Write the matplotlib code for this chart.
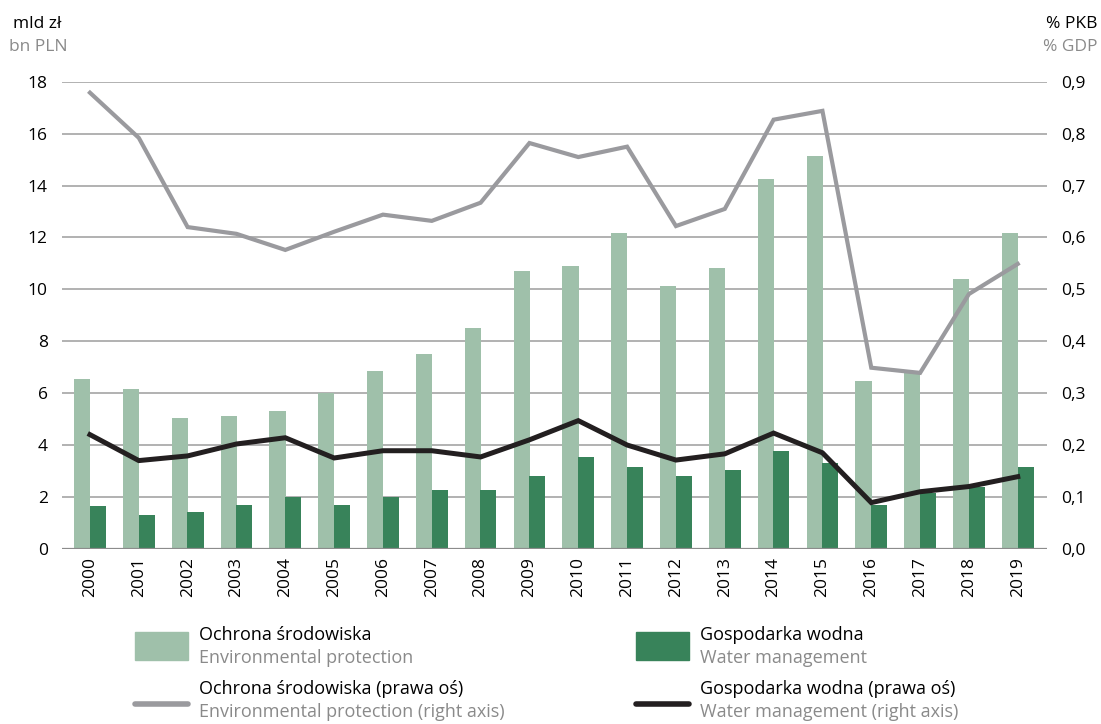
import matplotlib.pyplot as plt
import numpy as np
from matplotlib.patches import Rectangle
from matplotlib.lines import Line2D

plt.rcParams['font.family'] = ['Open Sans', 'DejaVu Sans']

years = [str(y) for y in range(2000, 2020)]
env_bn = [6.55, 6.17, 5.05, 5.13, 5.32, 6.0, 6.86, 7.52, 8.52, 10.7,
          10.9, 12.18, 10.14, 10.83, 14.26, 15.15, 6.48, 6.8, 10.4, 12.18]
water_bn = [1.66, 1.31, 1.43, 1.70, 1.98, 1.70, 2.0, 2.27, 2.27, 2.81,
            3.55, 3.16, 2.81, 3.04, 3.78, 3.32, 1.70, 2.15, 2.4, 3.16]
env_gdp = [0.879, 0.792, 0.620, 0.607, 0.576, 0.611, 0.644, 0.632, 0.667, 0.782,
           0.755, 0.775, 0.622, 0.655, 0.827, 0.844, 0.349, 0.339, 0.491, 0.549]
water_gdp = [0.22, 0.17, 0.179, 0.202, 0.214, 0.175, 0.189, 0.189, 0.177, 0.21,
             0.247, 0.20, 0.171, 0.183, 0.223, 0.185, 0.089, 0.11, 0.12, 0.139]

light = '#9fc0aa'
dark = '#38835a'
grey = '#9a9a9e'
black = '#231f20'
sub = '#8a8a8a'

fig = plt.figure(figsize=(11.01, 7.24), dpi=100)
ax = fig.add_axes([0.056, 0.242, 0.895, 0.645])
x = np.arange(len(years))

ax.bar(x - 0.16, env_bn, width=0.33, color=light, zorder=2)
ax.bar(x + 0.16, water_bn, width=0.33, color=dark, zorder=3)
ax.set_ylim(0, 18)
ax.set_xlim(-0.58, 19.6)
ax.set_yticks(range(0, 19, 2))
ax.yaxis.grid(True, color='#9d9d9d', linewidth=1.1, zorder=0)
ax.set_axisbelow(True)
ax.axhline(0, color='#8c8c8c', linewidth=1.6, zorder=4)
for s in ax.spines.values():
    s.set_visible(False)
ax.set_xticks(x)
ax.set_xticklabels(years, rotation=90, fontsize=12.5)
ax.tick_params(axis='both', length=0, labelsize=12.5)
ax.tick_params(axis='y', pad=10)
ax.tick_params(axis='x', pad=6)

ax2 = ax.twinx()
ax2.plot(x, env_gdp, color=grey, linewidth=3, solid_joinstyle='miter', zorder=5)
ax2.plot(x, water_gdp, color=black, linewidth=3.6, solid_joinstyle='miter', zorder=6)
ax2.set_ylim(0, 0.9)
ax2.set_yticks(np.arange(0, 0.91, 0.1))
ax2.set_yticklabels([f'{v:.1f}'.replace('.', ',') for v in np.arange(0, 0.91, 0.1)])
ax2.tick_params(axis='y', length=0, labelsize=12.5, pad=10)
for s in ax2.spines.values():
    s.set_visible(False)

# axis unit headers
fig.text(0.012, 0.967, 'mld zł', fontsize=12.5, color='black', va='center')
fig.text(0.008, 0.935, 'bn PLN', fontsize=12.5, color=sub, va='center')
fig.text(0.997, 0.967, '% PKB', fontsize=12.5, color='black', va='center', ha='right')
fig.text(0.997, 0.935, '% GDP', fontsize=12.5, color=sub, va='center', ha='right')

# legend drawn by hand
def legend_item(xp, yp, pl, en, kind, color):
    if kind == 'patch':
        fig.add_artist(Rectangle((xp, yp - 0.020), 0.048, 0.039,
                                 transform=fig.transFigure, color=color))
    else:
        fig.add_artist(Line2D([xp, xp + 0.048], [yp - 0.006, yp - 0.006],
                              transform=fig.transFigure, color=color,
                              linewidth=4, solid_capstyle='round'))
    fig.text(xp + 0.058, yp + 0.015, pl, fontsize=13, color='black', va='center')
    fig.text(xp + 0.058, yp - 0.017, en, fontsize=13, color=sub, va='center')

legend_item(0.123, 0.108, 'Ochrona środowiska', 'Environmental protection', 'patch', light)
legend_item(0.578, 0.108, 'Gospodarka wodna', 'Water management', 'patch', dark)
legend_item(0.123, 0.033, 'Ochrona środowiska (prawa oś)',
            'Environmental protection (right axis)', 'line', grey)
legend_item(0.578, 0.033, 'Gospodarka wodna (prawa oś)',
            'Water management (right axis)', 'line', black)

fig.savefig('out.png', dpi=100)
